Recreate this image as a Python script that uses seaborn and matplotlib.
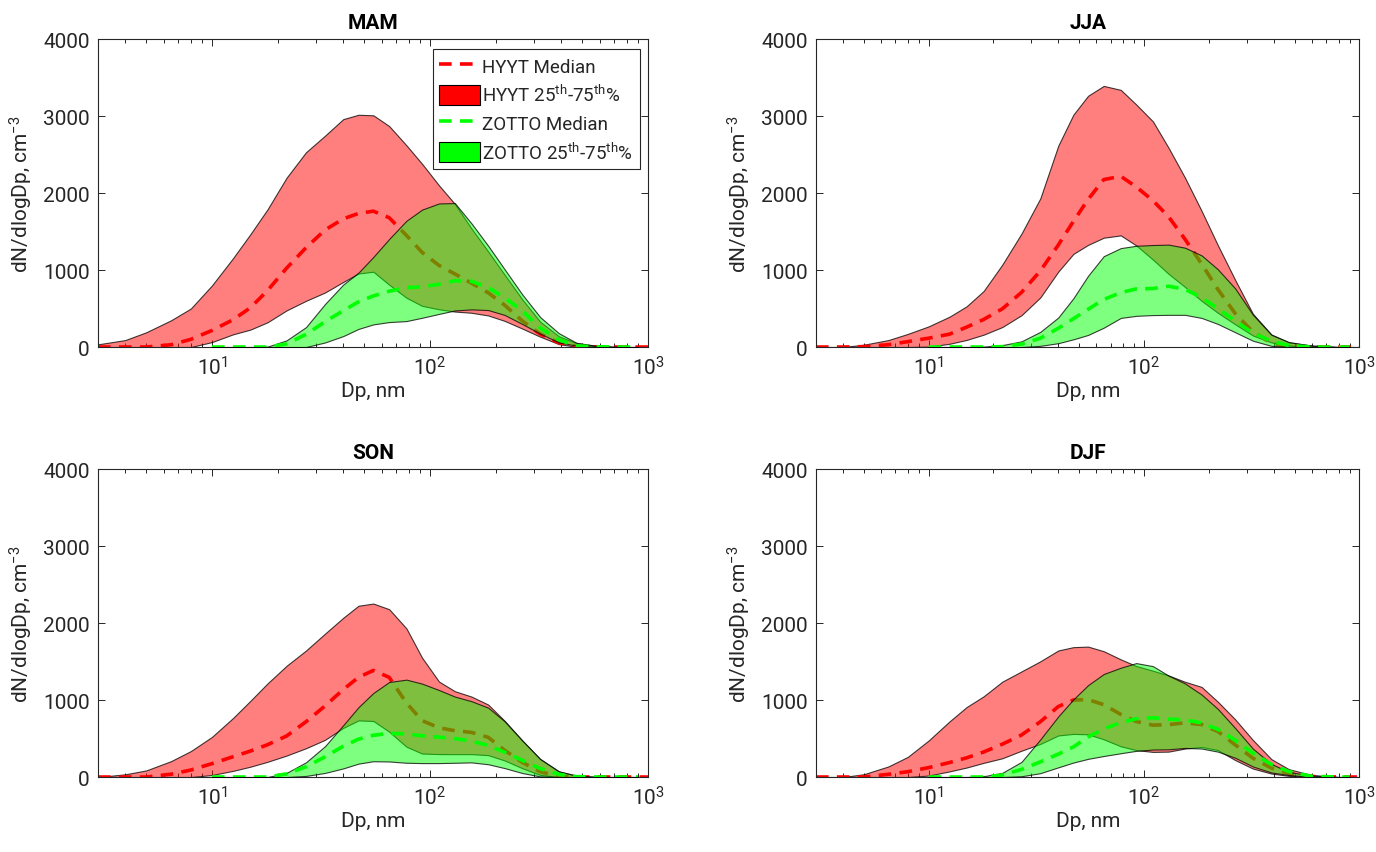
import matplotlib
matplotlib.use("Agg")
import matplotlib.pyplot as plt
import numpy as np
import seaborn as sns
from matplotlib.lines import Line2D
from matplotlib.patches import Patch
from matplotlib.ticker import LogLocator, FixedLocator, NullFormatter

# Particle diameters (nm) of the two size-distribution records
HYYT_DP = [3, 4, 5, 6.5, 8, 10, 12.5, 15, 18, 22, 27, 33, 40, 47, 55, 65, 78, 92,
           110, 130, 155, 185, 220, 265, 320, 390, 470, 600, 800, 1000]
ZOTTO_DP = [10, 12.5, 15, 18, 22, 27, 33, 40, 47, 55, 65, 78, 92,
            110, 130, 155, 185, 220, 265, 320, 390, 470, 600, 800, 900]

SEASONS = ["MAM", "JJA", "SON", "DJF"]

# dN/dlogDp (cm^-3), HYYT: 25th, 50th, 75th percentiles
MAM_HYYT_P25 = [0, 0, 0, 0, 0, 64, 165, 226, 322, 476, 600, 708, 845, 955, 978, 810, 640, 535,
                490, 461, 445, 410, 340, 240, 135, 38, 3, 0, 0, 0]
MAM_HYYT_P50 = [0, 0, 0, 30, 100, 215, 355, 510, 735, 1025, 1290, 1520, 1665, 1735, 1765, 1680, 1450, 1230,
                1060, 950, 830, 705, 545, 340, 170, 55, 8, 0, 0, 0]
MAM_HYYT_P75 = [35, 90, 192, 348, 500, 800, 1155, 1465, 1790, 2200, 2530, 2745, 2960, 3017, 3010, 2870, 2620, 2380,
                2100, 1860, 1540, 1240, 940, 620, 330, 140, 50, 10, 0, 0]

JJA_HYYT_P25 = [0, 0, 0, 0, 0, 5, 42, 92, 160, 260, 414, 644, 980, 1210, 1327, 1420, 1450, 1320,
                1135, 950, 780, 600, 445, 295, 150, 60, 20, 0, 0, 0]
JJA_HYYT_P50 = [0, 0, 5, 30, 70, 115, 167, 258, 358, 497, 710, 989, 1326, 1632, 1918, 2175, 2218, 2080,
                1902, 1692, 1400, 1080, 750, 435, 198, 50, 10, 0, 0, 0]
JJA_HYYT_P75 = [0, 0, 30, 90, 170, 268, 394, 528, 727, 1072, 1475, 1931, 2617, 3019, 3264, 3392, 3340, 3150,
                2930, 2587, 2198, 1768, 1323, 870, 432, 162, 60, 20, 0, 0]

SON_HYYT_P25 = [0, 0, 0, 0, 0, 26, 80, 134, 198, 279, 374, 483, 638, 735, 728, 589, 394, 305,
                298, 297, 297, 284, 215, 115, 28, 0, 0, 0, 0, 0]
SON_HYYT_P50 = [0, 0, 0, 37, 91, 174, 264, 337, 420, 533, 718, 923, 1136, 1295, 1385, 1295, 962, 733,
                640, 602, 580, 516, 348, 191, 70, 8, 0, 0, 0, 0]
SON_HYYT_P75 = [0, 35, 86, 207, 337, 521, 767, 989, 1217, 1445, 1643, 1862, 2068, 2225, 2253, 2180, 1930, 1550,
                1240, 1115, 1045, 941, 730, 475, 235, 75, 14, 0, 0, 0]

DJF_HYYT_P25 = [0, 0, 0, 0, 0, 19, 73, 123, 184, 244, 342, 430, 540, 560, 555, 490, 399, 350,
                326, 330, 370, 390, 350, 220, 110, 45, 15, 0, 0, 0]
DJF_HYYT_P50 = [0, 0, 0, 35, 69, 122, 188, 249, 325, 427, 546, 718, 916, 1000, 1006, 940, 813, 721,
                674, 681, 704, 682, 592, 418, 245, 117, 44, 7, 0, 0]
DJF_HYYT_P75 = [0, 0, 36, 137, 261, 474, 722, 908, 1048, 1239, 1372, 1503, 1644, 1687, 1694, 1634, 1528, 1442,
                1381, 1319, 1237, 1170, 978, 748, 481, 232, 102, 26, 0, 0]

# dN/dlogDp (cm^-3), ZOTTO: 25th, 50th, 75th percentiles
MAM_ZOTTO_P25 = [0, 0, 0, 0, 0, 0, 59, 142, 235, 294, 324, 337, 380,
                 430, 475, 489, 480, 417, 299, 175, 60, 18, 0, 0, 0]
MAM_ZOTTO_P50 = [0, 0, 0, 0, 41, 164, 328, 472, 587, 664, 725, 770, 783,
                 815, 860, 855, 771, 642, 470, 250, 95, 15, 3, 0, 0]
MAM_ZOTTO_P75 = [0, 0, 0, 5, 87, 258, 558, 811, 966, 1170, 1404, 1640, 1785,
                 1865, 1870, 1606, 1315, 1010, 684, 390, 180, 55, 9, 0, 0]

JJA_ZOTTO_P25 = [0, 0, 0, 0, 0, 0, 15, 50, 100, 157, 251, 378, 405,
                 415, 418, 418, 378, 300, 192, 82, 15, 3, 0, 0, 0]
JJA_ZOTTO_P50 = [0, 0, 0, 0, 5, 38, 114, 244, 368, 490, 618, 707, 755,
                 760, 790, 750, 643, 500, 337, 183, 74, 20, 0, 0, 0]
JJA_ZOTTO_P75 = [0, 0, 0, 5, 25, 74, 197, 384, 634, 926, 1180, 1285, 1315,
                 1325, 1330, 1290, 1190, 1010, 760, 420, 160, 65, 17, 0, 0]

SON_ZOTTO_P25 = [0, 0, 0, 0, 0, 14, 53, 112, 174, 205, 202, 185, 181,
                 181, 185, 190, 166, 116, 52, 8, 0, 0, 0, 0, 0]
SON_ZOTTO_P50 = [0, 0, 0, 0, 41, 133, 262, 400, 492, 542, 567, 560, 536,
                 518, 500, 466, 411, 322, 217, 110, 35, 5, 0, 0, 0]
SON_ZOTTO_P75 = [0, 0, 0, 0, 54, 191, 400, 673, 907, 1092, 1234, 1265, 1213,
                 1130, 1045, 985, 901, 724, 475, 235, 73, 20, 0, 0, 0]

DJF_ZOTTO_P25 = [0, 0, 0, 0, 0, 10, 50, 126, 188, 236, 273, 309, 340,
                 357, 360, 378, 370, 330, 250, 137, 59, 26, 3, 0, 0]
DJF_ZOTTO_P50 = [0, 0, 0, 0, 26, 99, 197, 298, 391, 521, 624, 708, 757,
                 770, 752, 742, 703, 620, 478, 312, 164, 71, 9, 0, 0]
DJF_ZOTTO_P75 = [0, 0, 0, 10, 55, 197, 489, 788, 1009, 1194, 1338, 1420, 1480,
                 1440, 1317, 1215, 1071, 885, 635, 369, 170, 65, 20, 0, 0]

HYYT = {
    "MAM": (MAM_HYYT_P25, MAM_HYYT_P50, MAM_HYYT_P75),
    "JJA": (JJA_HYYT_P25, JJA_HYYT_P50, JJA_HYYT_P75),
    "SON": (SON_HYYT_P25, SON_HYYT_P50, SON_HYYT_P75),
    "DJF": (DJF_HYYT_P25, DJF_HYYT_P50, DJF_HYYT_P75),
}
ZOTTO = {
    "MAM": (MAM_ZOTTO_P25, MAM_ZOTTO_P50, MAM_ZOTTO_P75),
    "JJA": (JJA_ZOTTO_P25, JJA_ZOTTO_P50, JJA_ZOTTO_P75),
    "SON": (SON_ZOTTO_P25, SON_ZOTTO_P50, SON_ZOTTO_P75),
    "DJF": (DJF_ZOTTO_P25, DJF_ZOTTO_P50, DJF_ZOTTO_P75),
}

LEGEND_LABELS = ["HYYT Median", r"HYYT 25$^{\rm th}$-75$^{\rm th}$%",
                 "ZOTTO Median", r"ZOTTO 25$^{\rm th}$-75$^{\rm th}$%"]

sns.set_theme(style="ticks")
plt.rcParams["font.family"] = ["Roboto", "DejaVu Sans"]
plt.rcParams["mathtext.fontset"] = "custom"
plt.rcParams["mathtext.rm"] = "Roboto"
plt.rcParams["mathtext.it"] = "Roboto:italic"
plt.rcParams["mathtext.bf"] = "Roboto:bold"

AX_COLOR = "#262626"
RED = (1.0, 0.0, 0.0)
GREEN = (0.0, 1.0, 0.0)
DASH = (0, (3.5, 2.3))

fig = plt.figure(figsize=(13.76, 8.53), dpi=100)
positions = {
    "MAM": [0.0712, 0.592, 0.3997, 0.361],
    "JJA": [0.593, 0.592, 0.395, 0.361],
    "SON": [0.0712, 0.0879, 0.3997, 0.361],
    "DJF": [0.593, 0.0879, 0.395, 0.361],
}

for season in SEASONS:
    ax = fig.add_axes(positions[season])
    h25, h50, h75 = HYYT[season]
    z25, z50, z75 = ZOTTO[season]

    ax.fill_between(HYYT_DP, h25, h75, facecolor=(*RED, 0.5),
                    edgecolor=(0, 0, 0, 0.75), linewidth=0.8, zorder=1)
    sns.lineplot(x=HYYT_DP, y=h50, ax=ax, color=RED, linewidth=2.6,
                 linestyle=DASH, zorder=2, legend=False)
    ax.fill_between(ZOTTO_DP, z25, z75, facecolor=(*GREEN, 0.5),
                    edgecolor=(0, 0, 0, 0.75), linewidth=0.8, zorder=3)
    sns.lineplot(x=ZOTTO_DP, y=z50, ax=ax, color=GREEN, linewidth=2.6,
                 linestyle=DASH, zorder=4, legend=False)

    ax.set_xscale("log")
    ax.set_xlim(3, 1000)
    ax.set_ylim(0, 4000)
    ax.xaxis.set_major_locator(FixedLocator([10, 100, 1000]))
    ax.xaxis.set_minor_locator(LogLocator(base=10, subs=np.arange(2, 10)))
    ax.xaxis.set_minor_formatter(NullFormatter())
    ax.set_yticks([0, 1000, 2000, 3000, 4000])

    for sp in ax.spines.values():
        sp.set_visible(True)
        sp.set_color(AX_COLOR)
        sp.set_linewidth(0.8)
    ax.tick_params(which="both", direction="in", top=True, right=True,
                   color=AX_COLOR, labelcolor=AX_COLOR, width=0.7)
    ax.tick_params(which="major", length=5, labelsize=15, pad=6)
    ax.tick_params(which="minor", length=3)

    ax.set_title(season, fontsize=15, fontweight="bold", color="black", pad=8)
    ax.set_xlabel("Dp, nm", fontsize=15, color=AX_COLOR, labelpad=2)
    ax.set_ylabel(r"dN/dlogDp, cm$^{-3}$", fontsize=15, color=AX_COLOR, labelpad=6)

    if season == "MAM":
        handles = [
            Line2D([0], [0], color=RED, lw=2.6, linestyle=DASH),
            Patch(facecolor=RED, edgecolor="black", linewidth=0.8),
            Line2D([0], [0], color=GREEN, lw=2.6, linestyle=DASH),
            Patch(facecolor=GREEN, edgecolor="black", linewidth=0.8),
        ]
        leg = ax.legend(handles, LEGEND_LABELS, loc="upper right",
                        bbox_to_anchor=(0.985, 0.968), borderaxespad=0,
                        fontsize=13.5, frameon=True, fancybox=False,
                        framealpha=1, edgecolor=AX_COLOR,
                        handlelength=2.2, handleheight=1.3,
                        handletextpad=0.1, labelspacing=0.42, borderpad=0.35)
        leg.get_frame().set_linewidth(0.8)
        for t in leg.get_texts():
            t.set_color(AX_COLOR)

fig.savefig("out.png", dpi=100)
